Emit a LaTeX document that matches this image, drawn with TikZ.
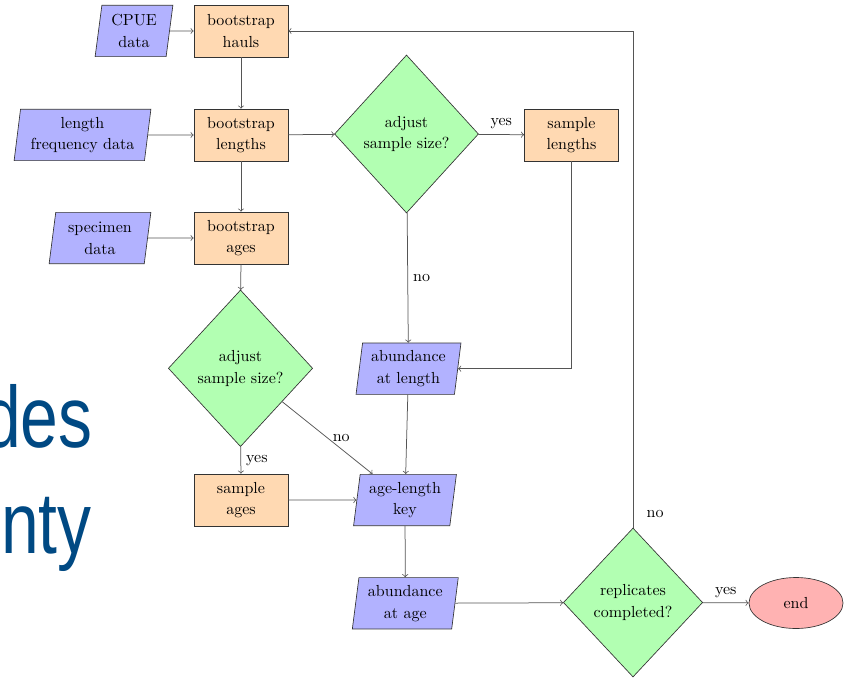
\documentclass[tikz,border=0pt]{standalone}
\usepackage{graphicx}
\usepackage{fontspec}
\newfontfamily\slidefont{Liberation Sans}
\usetikzlibrary{shapes.geometric,arrows}
\definecolor{slideblue}{RGB}{0,73,131}
\definecolor{lineclr}{RGB}{85,85,85}
\begin{document}
\begin{tikzpicture}[x=0.6pt,y=-0.6pt,
  font=\fontsize{9.6}{13}\selectfont,
  every node/.style={align=center},
  procbox/.style={rectangle,draw=black!80,fill=orange!30,minimum width=56.4pt,minimum height=31.2pt,inner sep=1pt},
  databox/.style={trapezium,trapezium left angle=82,trapezium right angle=98,trapezium stretches=true,draw=black!80,fill=blue!30,minimum height=30.8pt,inner sep=1pt},
  decbox/.style={diamond,draw=black!80,fill=green!30,inner sep=0pt},
  endbox/.style={ellipse,draw=black!80,fill=red!30,minimum width=56.4pt,minimum height=30.6pt,inner sep=0pt},
  conn/.style={->,draw=lineclr,line width=0.45pt},
  lbl/.style={inner sep=3pt},
  slidetext/.style={anchor=base east,inner sep=0pt,text=slideblue,font=\slidefont\fontsize{52.2}{60}\selectfont}
]
\useasboundingbox (0,0) rectangle (844,679);
\begin{scope}
\clip (0,0) rectangle (844,679);
\node[slidetext] (bg1) at (93,447) {\scalebox{0.78}[1]{des}};
\node[slidetext] (bg2) at (92,553) {\scalebox{0.78}[1]{nty}};
\end{scope}

% nodes
\node[databox,minimum width=46.8pt] (cpue) at (134,31) {CPUE\\data};
\node[procbox] (hauls) at (241,31) {bootstrap\\hauls};
\node[databox,minimum width=82.2pt] (lfd) at (82.5,135) {length\\frequency data};
\node[procbox] (lengths) at (241,135) {bootstrap\\lengths};
\node[databox,minimum width=61.2pt] (spec) at (100,238) {specimen\\data};
\node[procbox] (ages) at (241,238) {bootstrap\\ages};
\node[decbox,minimum width=86.4pt,minimum height=94.8pt] (d1) at (406.5,134) {adjust\\sample size?};
\node[procbox] (sl) at (571.5,135) {sample\\lengths};
\node[decbox,minimum width=86.6pt,minimum height=94pt] (d2) at (240.5,368.3) {adjust\\sample size?};
\node[databox,minimum width=63pt] (abl) at (408.5,368.7) {abundance\\at length};
\node[procbox] (sa) at (241,500) {sample\\ages};
\node[databox,minimum width=62pt] (key) at (405,500) {age-length\\key};
\node[databox,minimum width=63.6pt] (aba) at (405.3,603.3) {abundance\\at age};
\node[decbox,minimum width=83.6pt,minimum height=89.4pt] (d3) at (633,602.5) {replicates\\completed?};
\node[endbox] (end) at (796,603) {end};

% connectors
\draw[conn] (cpue) -- (hauls);
\draw[conn] (hauls) -- (lengths);
\draw[conn] (lfd) -- (lengths);
\draw[conn] (lengths) -- (ages);
\draw[conn] (spec) -- (ages);
\draw[conn] (lengths) -- (d1);
\draw[conn] (d1) -- node[lbl,midway,above] (lyes1) {yes} (sl);
\draw[conn] (d1) -- node[lbl,midway,right] (lno1) {no} (abl);
\draw[conn] (sl.south) |- (abl.east);
\draw[conn] (ages) -- (d2);
\draw[conn] (d2) -- node[lbl,midway,right] (lyes2) {yes} (sa);
\draw[conn] (d2) -- node[lbl,midway,right] (lno2) {no} (key);
\draw[conn] (abl) -- (key);
\draw[conn] (sa) -- (key);
\draw[conn] (key) -- (aba);
\draw[conn] (aba) -- (d3);
\draw[conn] (d3) -- node[lbl,midway,above] (lyes3) {yes} (end);
\draw[conn] (d3.north) |- node[lbl,at start,anchor=south west,xshift=5pt,yshift=2.5pt] (lno3) {no} (hauls.east);
\end{tikzpicture}
\end{document}
